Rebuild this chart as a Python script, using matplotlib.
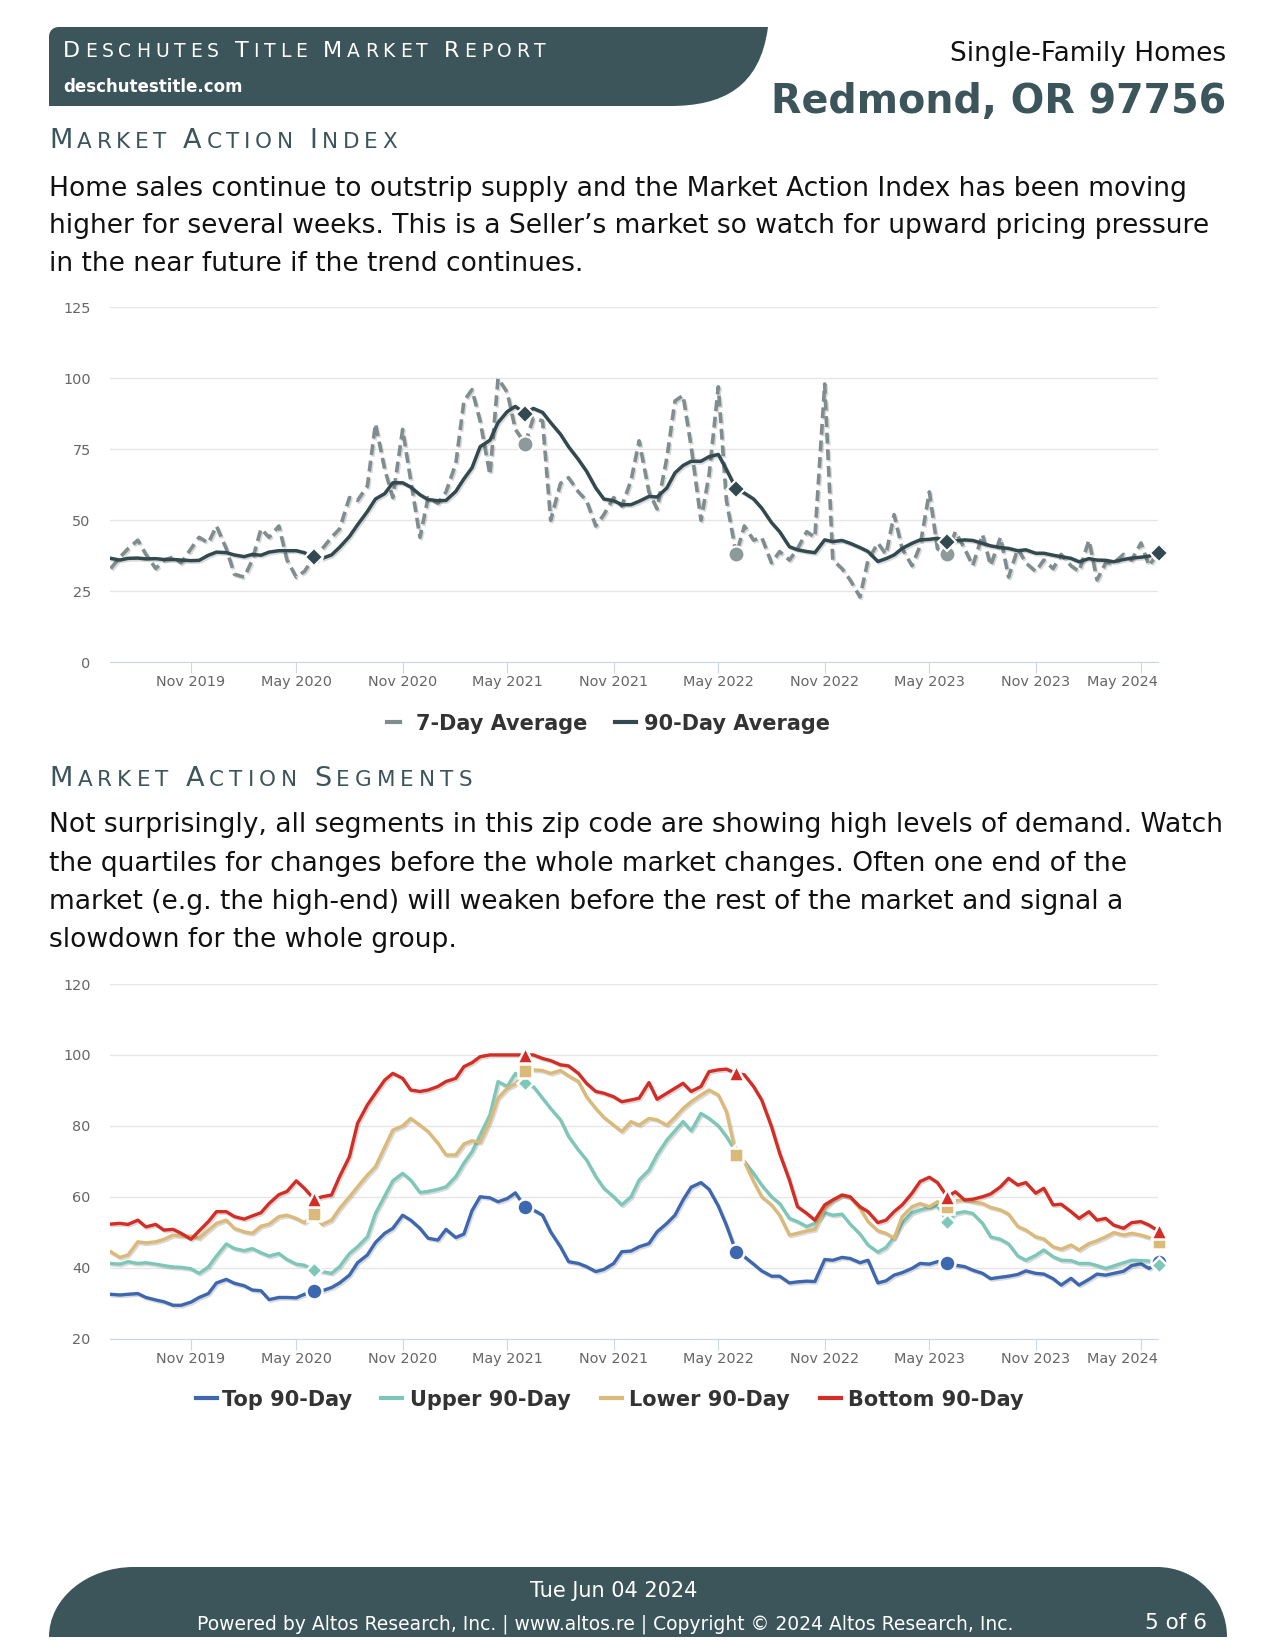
import numpy as np
import pandas as pd
import matplotlib
matplotlib.use('Agg')
import matplotlib.pyplot as plt
import matplotlib.patheffects as pe
from matplotlib.path import Path
from matplotlib.patches import PathPatch
from matplotlib.transforms import ScaledTranslation

# ---- data (semi-monthly readings, Jun 2019 - Jun 2024) ----
dates = pd.date_range('2019-06-15', '2024-06-01', freq='SMS')
marker_idx = [23, 47, 71, 95, 119]

tick_dates = pd.to_datetime(['2019-11-01', '2020-05-01', '2020-11-01', '2021-05-01',
                             '2021-11-01', '2022-05-01', '2022-11-01', '2023-05-01',
                             '2023-11-01', '2024-05-01'])
tick_labels = ['Nov 2019', 'May 2020', 'Nov 2020', 'May 2021', 'Nov 2021',
               'May 2022', 'Nov 2022', 'May 2023', 'Nov 2023', 'May 2024']

ma_7 = [33, 37, 40, 43, 38, 33, 36, 37, 35, 40,
        44, 42, 48, 40, 31, 30, 36, 47, 44, 48,
        36, 30, 32, 37, 40, 44, 47, 58, 57, 62,
        84, 68, 58, 82, 64, 44, 58, 56, 60, 70,
        92, 96, 85, 66, 100, 95, 82, 77, 86, 85,
        50, 63, 65, 60, 57, 48, 52, 58, 55, 64,
        78, 60, 54, 72, 92, 94, 76, 50, 66, 97,
        57, 38, 48, 43, 44, 35, 39, 36, 40, 46,
        44, 98, 36, 33, 29, 23, 36, 42, 38, 52,
        40, 34, 41, 60, 40, 38, 46, 40, 34, 45,
        34, 44, 30, 40, 35, 32, 36, 33, 38, 34,
        32, 43, 29, 35, 35, 38, 36, 42, 34, 39]

ma_90 = [36.6, 36.0, 36.6, 36.7, 36.4, 36.5, 36.2, 36.2, 36.0, 35.8,
         35.9, 37.7, 38.8, 38.6, 37.8, 37.2, 38.0, 37.7, 38.8, 39.3,
         39.3, 39.3, 38.6, 37.0, 36.6, 37.8, 40.5, 44.3, 48.4, 53.1,
         57.5, 59.4, 63.2, 63.2, 61.7, 59.0, 57.3, 56.9, 57.0, 60.2,
         64.6, 68.5, 75.9, 78.2, 84.4, 88.3, 90.1, 87.5, 89.4, 88.0,
         84.4, 80.3, 75.9, 71.4, 67.3, 61.4, 57.5, 56.9, 55.5, 55.5,
         56.7, 58.4, 58.2, 61.4, 66.7, 69.3, 70.8, 70.8, 72.4, 73.2,
         67.9, 61.0, 59.6, 57.5, 54.3, 49.2, 46.0, 40.7, 39.6, 39.0,
         38.6, 43.1, 42.5, 42.9, 41.9, 40.4, 39.0, 35.5, 36.5, 37.8,
         40.1, 41.9, 43.1, 43.3, 43.7, 42.5, 42.7, 43.1, 42.9, 41.9,
         41.0, 40.4, 40.1, 39.3, 39.6, 38.4, 38.4, 37.7, 37.2, 36.6,
         35.4, 36.5, 36.0, 35.9, 35.4, 36.2, 36.7, 37.0, 37.4, 38.5]

top_90 = [32.5, 32.3, 32.5, 32.7, 31.6, 30.9, 30.4, 29.4, 29.4, 30.3,
          31.6, 32.7, 35.7, 36.7, 35.6, 34.9, 33.7, 33.5, 31.0, 31.6,
          31.6, 31.5, 32.5, 33.5, 33.5, 34.4, 35.7, 37.9, 41.4, 43.6,
          47.1, 49.7, 51.1, 54.8, 53.4, 51.1, 48.3, 47.8, 50.8, 48.5,
          49.5, 56.1, 60.0, 59.7, 58.6, 59.5, 61.1, 57.0, 56.3, 54.8,
          50.1, 45.9, 41.7, 41.2, 40.3, 38.9, 39.5, 41.2, 44.5, 44.7,
          45.9, 46.8, 50.1, 52.5, 54.8, 59.1, 62.7, 64.0, 62.1, 57.4,
          52.0, 44.4, 43.1, 41.0, 39.1, 37.6, 37.6, 35.7, 36.0, 36.2,
          36.1, 42.3, 42.1, 42.9, 42.6, 41.4, 42.1, 35.7, 36.3, 37.9,
          38.6, 39.8, 41.2, 41.0, 41.7, 41.2, 40.7, 40.3, 39.3, 38.4,
          36.9, 37.3, 37.6, 38.1, 39.1, 38.4, 38.2, 36.9, 35.1, 37.0,
          35.1, 36.7, 38.2, 37.9, 38.4, 39.0, 40.6, 41.1, 39.8, 41.5]

upper_90 = [41.2, 41.0, 41.7, 41.2, 41.4, 41.0, 40.6, 40.2, 40.1, 39.7,
            38.4, 40.2, 43.3, 46.7, 45.4, 44.8, 45.4, 44.2, 43.3, 44.0,
            42.3, 41.0, 40.7, 39.3, 38.9, 38.4, 40.3, 44.0, 45.9, 48.7,
            55.3, 60.2, 64.5, 66.6, 64.7, 61.2, 61.5, 62.1, 62.8, 65.7,
            69.5, 72.7, 77.4, 83.1, 92.5, 91.1, 94.8, 92.0, 91.1, 87.8,
            84.9, 81.7, 77.0, 73.2, 70.4, 65.7, 62.4, 60.0, 57.7, 60.0,
            64.7, 67.5, 71.8, 76.0, 78.6, 81.2, 78.6, 83.5, 82.1, 80.0,
            77.0, 72.5, 69.9, 66.6, 63.3, 60.0, 58.1, 53.9, 53.0, 51.6,
            52.5, 55.5, 54.8, 55.1, 52.3, 49.5, 46.4, 44.4, 45.7, 48.6,
            52.5, 55.5, 56.3, 56.9, 57.5, 53.0, 55.3, 55.8, 55.3, 52.5,
            48.7, 48.0, 46.7, 43.3, 42.1, 43.5, 45.0, 43.1, 42.1, 42.0,
            41.2, 41.2, 40.6, 39.8, 40.5, 41.4, 42.1, 42.0, 41.9, 40.7]

lower_90 = [44.5, 42.9, 43.6, 47.3, 47.0, 47.3, 48.0, 49.2, 48.9, 48.9,
            48.3, 50.6, 52.5, 53.4, 51.1, 50.1, 49.7, 51.7, 52.3, 54.4,
            54.8, 53.9, 52.7, 55.0, 52.2, 53.4, 56.7, 60.0, 62.8, 66.1,
            68.5, 74.0, 78.8, 80.0, 82.1, 80.2, 78.4, 75.1, 71.8, 71.8,
            74.9, 75.8, 75.3, 81.2, 87.8, 90.6, 91.8, 95.5, 95.8, 95.6,
            94.8, 95.6, 94.1, 92.5, 88.2, 84.9, 82.4, 80.2, 78.4, 81.2,
            80.2, 82.1, 81.7, 80.2, 82.4, 84.9, 86.8, 88.7, 90.1, 88.7,
            84.0, 71.7, 69.9, 64.3, 60.0, 57.7, 54.8, 49.2, 49.7, 50.4,
            50.8, 56.7, 58.9, 60.4, 59.8, 56.7, 53.0, 50.4, 49.7, 48.3,
            54.4, 57.2, 58.1, 57.2, 58.6, 57.2, 58.9, 59.1, 58.6, 58.1,
            57.0, 56.3, 55.1, 51.6, 50.6, 48.7, 48.1, 45.9, 45.2, 46.4,
            45.0, 46.8, 47.6, 48.7, 49.9, 49.2, 49.7, 49.2, 48.5, 47.3]

bottom_90 = [52.3, 52.5, 52.2, 53.4, 51.5, 52.2, 50.6, 50.8, 49.7, 48.0,
             50.4, 53.0, 55.8, 55.8, 54.4, 53.7, 54.6, 55.5, 58.1, 60.6,
             61.5, 64.5, 62.4, 59.3, 60.0, 60.5, 65.7, 71.3, 80.7, 85.9,
             89.2, 92.9, 94.8, 93.4, 90.1, 89.7, 90.1, 91.1, 92.5, 93.4,
             96.7, 97.8, 99.5, 100, 100, 100, 100, 100, 100, 99.0,
             98.4, 97.2, 96.9, 94.8, 92.0, 89.7, 89.2, 88.2, 86.8, 87.3,
             87.8, 92.2, 87.5, 89.2, 90.6, 92.0, 89.7, 91.1, 95.3, 95.8,
             96.0, 94.8, 94.4, 91.1, 87.3, 79.8, 72.3, 64.7, 57.2, 55.3,
             53.4, 57.7, 59.1, 60.5, 60.0, 57.2, 55.8, 52.7, 53.4, 55.8,
             57.7, 61.0, 64.3, 65.5, 64.0, 60.0, 61.4, 59.1, 59.3, 60.0,
             60.8, 62.8, 65.2, 63.3, 64.0, 61.0, 62.4, 57.7, 57.9, 55.8,
             53.9, 55.8, 53.4, 53.9, 52.0, 51.1, 52.7, 53.0, 52.0, 50.3]

para_1 = ['Home sales continue to outstrip supply and the Market Action Index has been moving',
          'higher for several weeks. This is a Seller\u2019s market so watch for upward pricing pressure',
          'in the near future if the trend continues.']
para_2 = ['Not surprisingly, all segments in this zip code are showing high levels of demand. Watch',
          'the quartiles for changes before the whole market changes. Often one end of the',
          'market (e.g. the high-end) will weaken before the rest of the market and signal a',
          'slowdown for the whole group.']

# ---- colours ----
SLATE = '#3b555b'
GRID = '#e6e6e6'
AXIS = '#ccd6eb'
LABEL = '#666666'
GREY7 = '#808d8e'
DARK90 = '#31494f'
C_TOP = '#3d67ae'
C_UPPER = '#7dc7b8'
C_LOWER = '#dbb978'
C_BOTTOM = '#d42d25'

fig = plt.figure(figsize=(12.75, 16.5), dpi=100)
bg = fig.add_axes([0, 0, 1, 1])
bg.set_xlim(0, 1275)
bg.set_ylim(1650, 0)
bg.axis('off')
renderer = fig.canvas.get_renderer()


def text_width(s, size, weight='normal'):
    t = bg.text(0, 0, s, fontsize=size, weight=weight)
    w = t.get_window_extent(renderer).width
    t.remove()
    return w


def small_caps(x, y, s, big, small, color, width):
    chars = []
    for n, word in enumerate(s.split(' ')):
        if n:
            chars.append((' ', small))
        chars.append((word[0], big))
        chars += [(c.upper(), small) for c in word[1:]]
    adv = [text_width('l' + c + 'l', sz) - text_width('ll', sz) for c, sz in chars]
    track = (width - sum(adv)) / (len(chars) - 1)
    px = x
    for (c, sz), a in zip(chars, adv):
        if c != ' ':
            bg.text(px, y, c, fontsize=sz, color=color, va='baseline', ha='left')
        px += a + track


# ---- header ----
hdr = Path([(59, 27), (768, 27), (760, 88), (722, 106), (670, 106), (49, 106), (49, 37),
            (49, 31), (53, 27), (59, 27), (59, 27)],
           [Path.MOVETO, Path.LINETO, Path.CURVE4, Path.CURVE4, Path.CURVE4, Path.LINETO,
            Path.LINETO, Path.CURVE4, Path.CURVE4, Path.CURVE4, Path.CLOSEPOLY])
bg.add_patch(PathPatch(hdr, facecolor=SLATE, edgecolor='none'))
small_caps(63, 57, 'Deschutes Title Market Report', 16, 13.5, 'white', 483)
bg.text(63, 92, 'deschutestitle.com', fontsize=12, weight='bold', color='white', va='baseline')
bg.text(1226, 61, 'Single-Family Homes', fontsize=19, color='#111111', ha='right', va='baseline')
bg.text(1226, 113, 'Redmond, OR 97756', fontsize=28.5, weight='bold', color=SLATE,
        ha='right', va='baseline')

small_caps(49, 148, 'Market Action Index', 19.5, 15.5, SLATE, 348)
for line, yb in zip(para_1, [196, 233, 271]):
    bg.text(49, yb, line, fontsize=19.1, color='#111111', va='baseline')

small_caps(49, 786, 'Market Action Segments', 19.5, 15.5, SLATE, 423)
for line, yb in zip(para_2, [832, 871, 909, 947]):
    bg.text(49, yb, line, fontsize=19.1, color='#111111', va='baseline')

# ---- footer ----
x0, x1, y0, y1, k = 49, 1227, 1567, 1637, 0.5523
rl, rr, ry = 85, 70, y1 - y0
ftr = Path([(x0, y1), (x0, y1 - k * ry), (x0 + rl - k * rl, y0), (x0 + rl, y0),
            (x1 - rr, y0), (x1 - rr + k * rr, y0), (x1, y1 - k * ry), (x1, y1),
            (x0, y1)],
           [Path.MOVETO, Path.CURVE4, Path.CURVE4, Path.CURVE4, Path.LINETO,
            Path.CURVE4, Path.CURVE4, Path.CURVE4, Path.CLOSEPOLY])
bg.add_patch(PathPatch(ftr, facecolor=SLATE, edgecolor='none'))
bg.text(614, 1597, 'Tue Jun 04 2024', fontsize=15, color='white', ha='center', va='baseline')
bg.text(605, 1629, 'Powered by Altos Research, Inc. | www.altos.re | Copyright \u00a9 2024 Altos Research, Inc.',
        fontsize=13.5, color='white', ha='center', va='baseline')
bg.text(1176, 1629, '5 of 6', fontsize=15.5, color='white', ha='center', va='baseline')

# ---- charts ----
shadow = [pe.SimpleLineShadow(offset=(1, -1.2), alpha=0.15), pe.Normal()]
x_start, x_end = pd.Timestamp('2019-06-13'), pd.Timestamp('2024-05-31')


def style_axis(ax, ymin, ymax, step):
    ax.set_facecolor('none')
    ax.set_xlim(x_start, x_end)
    ax.set_ylim(ymin, ymax)
    ax.set_yticks(np.arange(ymin, ymax + 1, step))
    ax.grid(axis='y', color=GRID, lw=1)
    ax.set_axisbelow(True)
    for s in ['top', 'right', 'left']:
        ax.spines[s].set_visible(False)
    ax.spines['bottom'].set_color(AXIS)
    ax.set_xticks(tick_dates)
    ax.set_xticklabels(tick_labels)
    ax.tick_params(axis='x', length=8, color=AXIS, labelcolor=LABEL, labelsize=10.4, pad=1.5)
    ax.tick_params(axis='y', length=0, labelcolor=LABEL, labelsize=10.4, pad=13.5)
    last = ax.get_xticklabels()[-1]
    last.set_transform(last.get_transform() + ScaledTranslation(-0.185, 0, fig.dpi_scale_trans))


W, H = 1275, 1650
ax1 = fig.add_axes([109.5 / W, 1 - 662.3 / H, (1158.3 - 109.5) / W, (662.3 - 307.3) / H])
style_axis(ax1, 0, 125, 25)
mx = dates[marker_idx]
ax1.plot(dates, ma_7, color=GREY7, lw=2.6, ls=(0, (3, 1.6)), path_effects=shadow, zorder=2)
ax1.plot(dates, ma_90, color=DARK90, lw=2.5, path_effects=shadow, zorder=3)
ax1.plot(mx, np.array(ma_7)[marker_idx], 'o', ms=11.5, mfc='#8d9a9b', mec='white', mew=1.5,
         zorder=4, clip_on=False)
ax1.plot(mx, np.array(ma_90)[marker_idx], 'D', ms=9, mfc=DARK90, mec='white', mew=1.5,
         zorder=5, clip_on=False)

ax2 = fig.add_axes([109.5 / W, 1 - 1338.6 / H, (1158.3 - 109.5) / W, (1338.6 - 984) / H])
style_axis(ax2, 20, 120, 20)
segments = [(top_90, C_TOP, 'o', 11.5), (upper_90, C_UPPER, 'D', 8.5),
            (lower_90, C_LOWER, 's', 10), (bottom_90, C_BOTTOM, '^', 11)]
for n, (vals, col, mk, ms) in enumerate(segments):
    ax2.plot(dates, vals, color=col, lw=2.4, path_effects=shadow, zorder=2 + n)
for n, (vals, col, mk, ms) in enumerate(segments):
    ax2.plot(mx, np.array(vals)[marker_idx], mk, ms=ms, mfc=col, mec='white', mew=1.8,
             zorder=10 + n, clip_on=False)

# ---- legends ----
bg.plot([387, 400], [721.7, 721.7], color=GREY7, lw=3)
bg.text(415.5, 721.7, '7-Day Average', fontsize=15, weight='bold', color='#333333',
        va='center_baseline')
bg.plot([615, 636], [721.7, 721.7], color=DARK90, lw=3)
bg.text(643.8, 721.7, '90-Day Average', fontsize=15, weight='bold', color='#333333',
        va='center_baseline')

leg2 = [('Top 90-Day', C_TOP, 195.7, 222), ('Upper 90-Day', C_UPPER, 380.8, 410.3),
        ('Lower 90-Day', C_LOWER, 600.7, 629), ('Bottom 90-Day', C_BOTTOM, 819.5, 848)]
for name, col, hx, tx in leg2:
    bg.plot([hx, hx + 21], [1398, 1398], color=col, lw=3)
    bg.text(tx, 1398, name, fontsize=15, weight='bold', color='#333333', va='center_baseline')

fig.savefig('out.png', dpi=100, facecolor='white')
